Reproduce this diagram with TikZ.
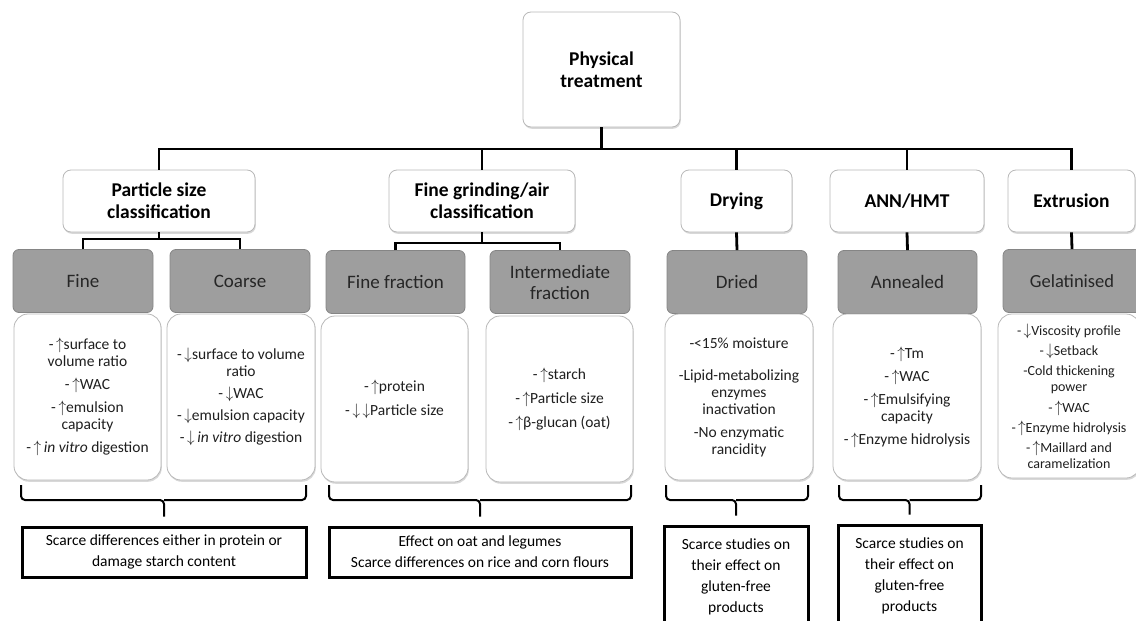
\documentclass[tikz,border=0pt]{standalone}
\usepackage{fontspec}
\setmainfont{Carlito}
\usepackage{tikz}
\usetikzlibrary{shadows}
\newcommand\upar{\,\scalebox{1.05}[1.15]{$\uparrow$}}
\newcommand\dnar{\,\scalebox{1.05}[1.15]{$\downarrow$}}

\begin{document}
\begin{tikzpicture}[x=1pt,y=-1pt,
    box/.style={draw=black!28,fill=white,rounded corners=8pt,line width=0.8pt,align=center,inner sep=0pt,
      drop shadow={shadow xshift=0.8pt,shadow yshift=-1.8pt,fill=black!30}},
    head/.style={box,minimum height=62pt,font=\fontsize{19.5}{22}\selectfont\bfseries},
    greybox/.style={draw=black!48,fill=black!38,rounded corners=6pt,line width=0.8pt,align=center,inner sep=0pt,
      minimum width=140pt,minimum height=63pt,text=black!85,font=\fontsize{19}{21}\selectfont},
    info/.style={box,rounded corners=14pt,minimum width=148pt,minimum height=166pt,text=black!88,
      font=\fontsize{15.5}{17}\selectfont},
    note/.style={draw,line width=3pt,fill=white,align=center,inner sep=0pt,font=\fontsize{15.5}{21}\selectfont},
    link/.style={line width=2.8pt},
    bracket/.style={line width=2pt,rounded corners=4pt}]
  \useasboundingbox (0,0) rectangle (1136,621);

  \node[head,minimum width=157pt,minimum height=115pt] (phys) at (601.5,69.5) {Physical\\treatment};

  \node[head,minimum width=192pt] (psc) at (159,201) {Particle size\\classification};
  \node[head,minimum width=186pt] (fga) at (482,201) {Fine grinding/air\\classification};
  \node[head,minimum width=111pt] (dry) at (736.5,201) {Drying};
  \node[head,minimum width=154pt] (ann) at (907,201) {ANN/HMT};
  \node[head,minimum width=127pt] (ext) at (1071.5,201) {Extrusion};

  \node[greybox] (fine) at (83,281) {Fine};
  \node[greybox] (coarse) at (240,281) {Coarse};
  \node[greybox,minimum width=139pt] (ffrac) at (395.5,282) {Fine fraction};
  \node[greybox] (ifrac) at (560,282) {Intermediate\\fraction};
  \node[greybox] (dried) at (737,282) {Dried};
  \node[greybox,minimum width=139pt] (anneal) at (907.5,282) {Annealed};
  \node[greybox,minimum width=138pt,font=\fontsize{18.5}{21}\selectfont] (gel) at (1072,281) {Gelatinised};

  \node[info,minimum width=147pt] (wfine) at (87.5,397) {-\upar surface to\\volume ratio\\[6pt]-\upar WAC\\[6pt]-\upar emulsion\\capacity\\[6pt]-\upar\,\textit{in vitro} digestion};
  \node[info] (wcoarse) at (241,397) {-\dnar surface to volume\\ratio\\[5pt]-\dnar WAC\\[5pt]-\dnar emulsion capacity\\[5pt]-\dnar\,\textit{in vitro} digestion};
  \node[info,minimum width=147pt] (wffrac) at (394.5,399) {-\upar protein\\[7pt]-\dnar\dnar Particle size};
  \node[info,minimum width=147pt] (wifrac) at (559.5,399) {-\upar starch\\[7pt]-\upar Particle size\\[7pt]-\upar β-glucan (oat)};
  \node[info] (wdried) at (739,397) {-<15\% moisture\\[15pt]-Lipid-metabolizing\\enzymes\\inactivation\\[6pt]-No enzymatic\\rancidity};
  \node[info] (wanneal) at (907,397) {-\upar Tm\\[6pt]-\upar WAC\\[6pt]-\upar Emulsifying\\capacity\\[6pt]-\upar Enzyme hidrolysis};
  \node[info,minimum width=142pt,minimum height=164pt,font=\fontsize{14}{16}\selectfont] (wgel) at (1069,396) {-\dnar Viscosity profile\\[4pt]-\dnar Setback\\[4pt]-Cold thickening\\power\\[5pt]-\upar WAC\\[4pt]-\upar Enzyme hidrolysis\\[4pt]-\upar Maillard and\\caramelization};

  \node[note,minimum width=284pt,minimum height=50pt] (sum1) at (164,552) {Scarce differences either in protein or\\damage starch content};
  \node[note,minimum width=302pt,minimum height=50pt] (sum2) at (480,552) {Effect on oat and legumes\\Scarce differences on rice and corn flours};
  \node[note,minimum width=144pt,minimum height=102pt] (sum3) at (736,577) {Scarce studies on\\their effect on\\gluten-free\\products};
  \node[note,minimum width=143pt,minimum height=102pt] (sum4) at (909.5,576) {Scarce studies on\\their effect on\\gluten-free\\products};

  \coordinate (bus) at (0,149);
  \coordinate (sub1) at (0,239);
  \coordinate (sub2) at (0,243);
  \draw[link] (psc.north) |- (bus -| ext.north) -- (ext.north);
  \foreach \n in {phys.south,fga.north,dry.north,ann.north}
    \draw[link] (\n) -- (\n |- bus);
  \draw[link] (psc.south) -- (psc.south |- sub1);
  \draw[link] (fine.north) |- (sub1 -| coarse.north) -- (coarse.north);
  \draw[link] (fga.south) -- (fga.south |- sub2);
  \draw[link] (ffrac.north) |- (sub2 -| ifrac.north) -- (ifrac.north);
  \draw[link] (dry.south) -- (dried.north);
  \draw[link] (ann.south) -- (anneal.north);
  \draw[link] (ext.south) -- (gel.north);

  \coordinate (t1) at ([yshift=9pt]sum1.north);
  \coordinate (t2) at ([yshift=9pt]sum2.north);
  \coordinate (t3) at ([yshift=9pt]sum3.north);
  \coordinate (t4) at ([yshift=9pt]sum4.north);
  \draw[bracket] (21,485) |- (t1 |- 0,500) -- (t1);
  \draw[bracket] (306,485) |- (t1 |- 0,500);
  \draw[bracket] (329,485) |- (t2 |- 0,500) -- (t2);
  \draw[bracket] (631,485) |- (t2 |- 0,500);
  \draw[bracket] (666,485) |- (t3 |- 0,500) -- (t3);
  \draw[bracket] (808,485) |- (t3 |- 0,500);
  \draw[bracket] (839,485) |- (t4 |- 0,500) -- (t4);
  \draw[bracket] (981,485) |- (t4 |- 0,500);
\end{tikzpicture}
\end{document}
